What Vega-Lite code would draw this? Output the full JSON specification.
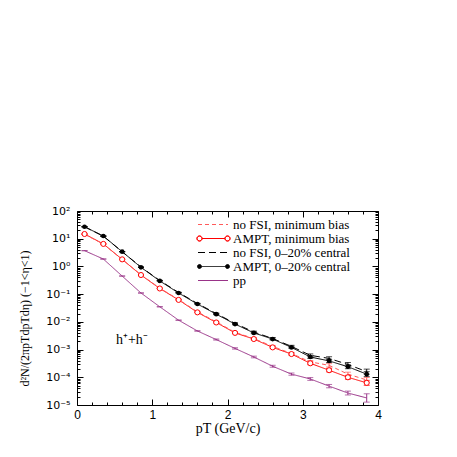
{
  "$schema": "https://vega.github.io/schema/vega-lite/v6.json",
  "autosize": "none",
  "width": 301,
  "height": 194,
  "padding": {"left": 77, "top": 211, "right": 79, "bottom": 52},
  "background": "white",
  "config": {"view": {"stroke": null}},
  "datasets": {
    "spectra": [
      {"s": "AMPT, 0–20% central", "pT": 0.1, "y": 27, "lo": 26.6, "hi": 27.4},
      {"s": "AMPT, 0–20% central", "pT": 0.35, "y": 12.5, "lo": 12.3, "hi": 12.7},
      {"s": "AMPT, 0–20% central", "pT": 0.6, "y": 3.4, "lo": 3.35, "hi": 3.45},
      {"s": "AMPT, 0–20% central", "pT": 0.85, "y": 0.93, "lo": 0.916, "hi": 0.944},
      {"s": "AMPT, 0–20% central", "pT": 1.1, "y": 0.3, "lo": 0.2955, "hi": 0.3045},
      {"s": "AMPT, 0–20% central", "pT": 1.35, "y": 0.11, "lo": 0.1084, "hi": 0.1117},
      {"s": "AMPT, 0–20% central", "pT": 1.6, "y": 0.044, "lo": 0.0433, "hi": 0.0447},
      {"s": "AMPT, 0–20% central", "pT": 1.85, "y": 0.019, "lo": 0.01815, "hi": 0.01989},
      {"s": "AMPT, 0–20% central", "pT": 2.1, "y": 0.0083, "lo": 0.00784, "hi": 0.00879},
      {"s": "AMPT, 0–20% central", "pT": 2.35, "y": 0.004, "lo": 0.00373, "hi": 0.00429},
      {"s": "AMPT, 0–20% central", "pT": 2.6, "y": 0.0024, "lo": 0.00221, "hi": 0.0026},
      {"s": "AMPT, 0–20% central", "pT": 2.85, "y": 0.0012, "lo": 0.001095, "hi": 0.001315},
      {"s": "AMPT, 0–20% central", "pT": 3.1, "y": 0.00054, "lo": 0.000481, "hi": 0.000606},
      {"s": "AMPT, 0–20% central", "pT": 3.35, "y": 0.00039, "lo": 0.00034, "hi": 0.000448},
      {"s": "AMPT, 0–20% central", "pT": 3.6, "y": 0.00024, "lo": 0.000204, "hi": 0.000282},
      {"s": "AMPT, 0–20% central", "pT": 3.85, "y": 0.00013, "lo": 0.000106, "hi": 0.00016},

      {"s": "no FSI, 0–20% central", "pT": 0.1, "y": 27, "lo": 26.6, "hi": 27.4},
      {"s": "no FSI, 0–20% central", "pT": 0.35, "y": 12.3, "lo": 12.12, "hi": 12.48},
      {"s": "no FSI, 0–20% central", "pT": 0.6, "y": 3.4, "lo": 3.35, "hi": 3.45},
      {"s": "no FSI, 0–20% central", "pT": 0.85, "y": 0.95, "lo": 0.936, "hi": 0.964},
      {"s": "no FSI, 0–20% central", "pT": 1.1, "y": 0.31, "lo": 0.3054, "hi": 0.3147},
      {"s": "no FSI, 0–20% central", "pT": 1.35, "y": 0.115, "lo": 0.1133, "hi": 0.1167},
      {"s": "no FSI, 0–20% central", "pT": 1.6, "y": 0.046, "lo": 0.0453, "hi": 0.0467},
      {"s": "no FSI, 0–20% central", "pT": 1.85, "y": 0.02, "lo": 0.0191, "hi": 0.0209},
      {"s": "no FSI, 0–20% central", "pT": 2.1, "y": 0.0088, "lo": 0.00831, "hi": 0.00932},
      {"s": "no FSI, 0–20% central", "pT": 2.35, "y": 0.0043, "lo": 0.00401, "hi": 0.00461},
      {"s": "no FSI, 0–20% central", "pT": 2.6, "y": 0.0025, "lo": 0.00231, "hi": 0.00271},
      {"s": "no FSI, 0–20% central", "pT": 2.85, "y": 0.0013, "lo": 0.001186, "hi": 0.001425},
      {"s": "no FSI, 0–20% central", "pT": 3.1, "y": 0.00062, "lo": 0.000553, "hi": 0.000696},
      {"s": "no FSI, 0–20% central", "pT": 3.35, "y": 0.00048, "lo": 0.000418, "hi": 0.000551},
      {"s": "no FSI, 0–20% central", "pT": 3.6, "y": 0.00029, "lo": 0.000247, "hi": 0.000341},
      {"s": "no FSI, 0–20% central", "pT": 3.85, "y": 0.00016, "lo": 0.00013, "hi": 0.000197},

      {"s": "AMPT, minimum bias", "pT": 0.1, "y": 14.8, "lo": 14.58, "hi": 15.02},
      {"s": "AMPT, minimum bias", "pT": 0.35, "y": 6.5, "lo": 6.4, "hi": 6.6},
      {"s": "AMPT, minimum bias", "pT": 0.6, "y": 1.8, "lo": 1.773, "hi": 1.827},
      {"s": "AMPT, minimum bias", "pT": 0.85, "y": 0.49, "lo": 0.4827, "hi": 0.4974},
      {"s": "AMPT, minimum bias", "pT": 1.1, "y": 0.16, "lo": 0.1576, "hi": 0.1624},
      {"s": "AMPT, minimum bias", "pT": 1.35, "y": 0.062, "lo": 0.0611, "hi": 0.0629},
      {"s": "AMPT, minimum bias", "pT": 1.6, "y": 0.022, "lo": 0.02167, "hi": 0.02233},
      {"s": "AMPT, minimum bias", "pT": 1.85, "y": 0.0095, "lo": 0.00907, "hi": 0.00995},
      {"s": "AMPT, minimum bias", "pT": 2.1, "y": 0.004, "lo": 0.00378, "hi": 0.00424},
      {"s": "AMPT, minimum bias", "pT": 2.35, "y": 0.0024, "lo": 0.00224, "hi": 0.00257},
      {"s": "AMPT, minimum bias", "pT": 2.6, "y": 0.0012, "lo": 0.001107, "hi": 0.001301},
      {"s": "AMPT, minimum bias", "pT": 2.85, "y": 0.00069, "lo": 0.00063, "hi": 0.000756},
      {"s": "AMPT, minimum bias", "pT": 3.1, "y": 0.00032, "lo": 0.000285, "hi": 0.000359},
      {"s": "AMPT, minimum bias", "pT": 3.35, "y": 0.00018, "lo": 0.000157, "hi": 0.000207},
      {"s": "AMPT, minimum bias", "pT": 3.6, "y": 0.0001, "lo": 0.0000851, "hi": 0.0001175},
      {"s": "AMPT, minimum bias", "pT": 3.85, "y": 0.000063, "lo": 0.0000512, "hi": 0.0000775},

      {"s": "no FSI, minimum bias", "pT": 0.1, "y": 14.5, "lo": 14.28, "hi": 14.72},
      {"s": "no FSI, minimum bias", "pT": 0.35, "y": 6.4, "lo": 6.3, "hi": 6.5},
      {"s": "no FSI, minimum bias", "pT": 0.6, "y": 1.8, "lo": 1.773, "hi": 1.827},
      {"s": "no FSI, minimum bias", "pT": 0.85, "y": 0.5, "lo": 0.4925, "hi": 0.5075},
      {"s": "no FSI, minimum bias", "pT": 1.1, "y": 0.165, "lo": 0.1625, "hi": 0.1675},
      {"s": "no FSI, minimum bias", "pT": 1.35, "y": 0.064, "lo": 0.063, "hi": 0.065},
      {"s": "no FSI, minimum bias", "pT": 1.6, "y": 0.023, "lo": 0.02266, "hi": 0.02335},
      {"s": "no FSI, minimum bias", "pT": 1.85, "y": 0.01, "lo": 0.00955, "hi": 0.01047},
      {"s": "no FSI, minimum bias", "pT": 2.1, "y": 0.0042, "lo": 0.00397, "hi": 0.00445},
      {"s": "no FSI, minimum bias", "pT": 2.35, "y": 0.0025, "lo": 0.00233, "hi": 0.00268},
      {"s": "no FSI, minimum bias", "pT": 2.6, "y": 0.0013, "lo": 0.0012, "hi": 0.00141},
      {"s": "no FSI, minimum bias", "pT": 2.85, "y": 0.00072, "lo": 0.000657, "hi": 0.000789},
      {"s": "no FSI, minimum bias", "pT": 3.1, "y": 0.00036, "lo": 0.000321, "hi": 0.000404},
      {"s": "no FSI, minimum bias", "pT": 3.35, "y": 0.00027, "lo": 0.000235, "hi": 0.00031},
      {"s": "no FSI, minimum bias", "pT": 3.6, "y": 0.00013, "lo": 0.0001106, "hi": 0.0001528},
      {"s": "no FSI, minimum bias", "pT": 3.85, "y": 0.00008, "lo": 0.000065, "hi": 0.0000984},

      {"s": "pp", "pT": 0.1, "y": 3.7, "lo": 3.645, "hi": 3.755},
      {"s": "pp", "pT": 0.35, "y": 1.85, "lo": 1.822, "hi": 1.878},
      {"s": "pp", "pT": 0.6, "y": 0.45, "lo": 0.443, "hi": 0.457},
      {"s": "pp", "pT": 0.85, "y": 0.11, "lo": 0.1084, "hi": 0.1117},
      {"s": "pp", "pT": 1.1, "y": 0.035, "lo": 0.0345, "hi": 0.0355},
      {"s": "pp", "pT": 1.35, "y": 0.0115, "lo": 0.01133, "hi": 0.01167},
      {"s": "pp", "pT": 1.6, "y": 0.0047, "lo": 0.00463, "hi": 0.00477},
      {"s": "pp", "pT": 1.85, "y": 0.0023, "lo": 0.0022, "hi": 0.00241},
      {"s": "pp", "pT": 2.1, "y": 0.0011, "lo": 0.00104, "hi": 0.001165},
      {"s": "pp", "pT": 2.35, "y": 0.00054, "lo": 0.000504, "hi": 0.000579},
      {"s": "pp", "pT": 2.6, "y": 0.00025, "lo": 0.000231, "hi": 0.000271},
      {"s": "pp", "pT": 2.85, "y": 0.00013, "lo": 0.0001186, "hi": 0.0001425},
      {"s": "pp", "pT": 3.1, "y": 0.000087, "lo": 0.0000775, "hi": 0.0000976},
      {"s": "pp", "pT": 3.35, "y": 0.000048, "lo": 0.0000418, "hi": 0.0000551},
      {"s": "pp", "pT": 3.6, "y": 0.000027, "lo": 0.000023, "hi": 0.0000317},
      {"s": "pp", "pT": 3.85, "y": 0.000018, "lo": 0.0000127, "hi": 0.0000254}
    ],
    "notes": [{"label": "h⁺+h⁻", "pT": 0.73, "y": 0.0022}]
  },
  "layer": [
    {
      "data": {"name": "spectra"},
      "mark": {"type": "line", "strokeWidth": 1, "clip": true},
      "encoding": {
        "x": {
          "field": "pT", "type": "quantitative",
          "scale": {"domain": [0, 4], "nice": false, "zero": false},
          "axis": {
            "orient": "bottom",
            "title": "pT (GeV/c)",
            "titleFont": "Liberation Serif", "titleFontSize": 14, "titleFontWeight": "normal", "titleColor": "black", "titlePadding": -2,
            "values": [0,0.2,0.4,0.6,0.8,1,1.2,1.4,1.6,1.8,2,2.2,2.4,2.6,2.8,3,3.2,3.4,3.6,3.8,4],
            "labelExpr": "abs(datum.value - round(datum.value)) < 0.001 ? format(datum.value, 'd') : ''",
            "labelFont": "Liberation Sans", "labelFontSize": 12, "labelColor": "black", "labelPadding": 10,
            "labelFlush": false, "labelOverlap": false,
            "tickSize": {"condition": {"test": "abs(datum.value - round(datum.value)) < 0.001", "value": -6}, "value": -3},
            "tickColor": "black", "domainColor": "black", "grid": false
          }
        },
        "y": {
          "field": "y", "type": "quantitative",
          "scale": {"type": "log", "domain": [0.00001, 100], "nice": false},
          "axis": {
            "orient": "left",
            "title": "d²N/(2πpTdpTdη) (−1<η<1)",
            "titleFont": "Liberation Serif", "titleFontSize": 12, "titleFontWeight": "normal", "titleColor": "black", "titlePadding": 14,
            "titleY": 107, "titleAlign": "center",
            "values": [0.00001,0.00002,0.00003,0.00004,0.00005,0.00006,0.00007,0.00008,0.00009,0.0001,0.0002,0.0003,0.0004,0.0005,0.0006,0.0007,0.0008,0.0009,0.001,0.002,0.003,0.004,0.005,0.006,0.007,0.008,0.009,0.01,0.02,0.03,0.04,0.05,0.06,0.07,0.08,0.09,0.1,0.2,0.3,0.4,0.5,0.6,0.7,0.8,0.9,1,2,3,4,5,6,7,8,9,10,20,30,40,50,60,70,80,90,100],
            "labelExpr": "abs(log(datum.value)/LN10 - round(log(datum.value)/LN10)) < 0.001 ? ['10⁻⁵','10⁻⁴','10⁻³','10⁻²','10⁻¹','10⁰','10¹','10²'][round(log(datum.value)/LN10) + 5] : ''",
            "labelFont": "DejaVu Sans", "labelFontSize": 11, "labelColor": "black", "labelPadding": 13,
            "labelFlush": false, "labelOverlap": false,
            "tickSize": {"condition": {"test": "abs(log(datum.value)/LN10 - round(log(datum.value)/LN10)) < 0.001", "value": -6}, "value": -3},
            "tickColor": "black", "domainColor": "black", "grid": false
          }
        },
        "color": {
          "field": "s", "type": "nominal",
          "scale": {
            "domain": ["no FSI, minimum bias", "AMPT, minimum bias", "no FSI, 0–20% central", "AMPT, 0–20% central", "pp"],
            "range": ["#ff5a5a", "#ff0000", "#000000", "#000000", "#993388"]
          },
          "legend": {
            "title": null, "orient": "none", "legendX": 130, "legendY": 7,
            "symbolSize": 100, "symbolStrokeWidth": 1,
            "labelFont": "Liberation Serif", "labelFontSize": 13, "labelColor": "black",
            "rowPadding": -4, "labelOffset": 13, "padding": 0,
            "encode": {
              "symbols": {
                "update": {
                  "shape": {"signal": "datum.value == 'AMPT, minimum bias' ? 'M-2.3,0H2.3M-2.3,0A0.5,0.5 0 1,1 -3.3,0A0.5,0.5 0 1,1 -2.3,0M-2.3,0A0.5,0.5 0 1,0 -3.3,0A0.5,0.5 0 1,0 -2.3,0M3.3,0A0.5,0.5 0 1,1 2.3,0A0.5,0.5 0 1,1 3.3,0M3.3,0A0.5,0.5 0 1,0 2.3,0A0.5,0.5 0 1,0 3.3,0' : datum.value == 'AMPT, 0–20% central' ? 'M-2.4,0H2.4M-2.4,0A0.4,0.4 0 1,1 -3.2,0A0.4,0.4 0 1,1 -2.4,0M3.2,0A0.4,0.4 0 1,1 2.4,0A0.4,0.4 0 1,1 3.2,0' : 'M-3.1,0H2.9'"},
                  "strokeDash": {"signal": "datum.value == 'no FSI, minimum bias' ? [4,3] : datum.value == 'no FSI, 0–20% central' ? [7,4] : [1,0]"},
                  "size": {"value": 100}
                }
              }
            }
          }
        },
        "strokeDash": {
          "field": "s", "type": "nominal",
          "scale": {
            "domain": ["no FSI, minimum bias", "AMPT, minimum bias", "no FSI, 0–20% central", "AMPT, 0–20% central", "pp"],
            "range": [[4, 3], [1, 0], [7, 4], [1, 0], [1, 0]]
          },
          "legend": null
        }
      }
    },
    {
      "data": {"name": "spectra"},
      "mark": {"type": "errorbar", "ticks": {"size": 6}, "rule": {"strokeWidth": 1}},
      "encoding": {
        "x": {
          "field": "pT", "type": "quantitative",
          "axis": {
            "orient": "top", "title": null, "labels": false,
            "values": [0,0.2,0.4,0.6,0.8,1,1.2,1.4,1.6,1.8,2,2.2,2.4,2.6,2.8,3,3.2,3.4,3.6,3.8,4],
            "tickSize": {"condition": {"test": "abs(datum.value - round(datum.value)) < 0.001", "value": -6}, "value": -3},
            "tickColor": "black", "domainColor": "black", "grid": false
          }
        },
        "y": {
          "field": "lo", "type": "quantitative",
          "axis": {
            "orient": "right", "title": null, "labels": false,
            "values": [0.00001,0.00002,0.00003,0.00004,0.00005,0.00006,0.00007,0.00008,0.00009,0.0001,0.0002,0.0003,0.0004,0.0005,0.0006,0.0007,0.0008,0.0009,0.001,0.002,0.003,0.004,0.005,0.006,0.007,0.008,0.009,0.01,0.02,0.03,0.04,0.05,0.06,0.07,0.08,0.09,0.1,0.2,0.3,0.4,0.5,0.6,0.7,0.8,0.9,1,2,3,4,5,6,7,8,9,10,20,30,40,50,60,70,80,90,100],
            "tickSize": {"condition": {"test": "abs(log(datum.value)/LN10 - round(log(datum.value)/LN10)) < 0.001", "value": -6}, "value": -3},
            "tickColor": "black", "domainColor": "black", "grid": false
          }
        },
        "y2": {"field": "hi"},
        "color": {"field": "s", "type": "nominal", "legend": null}
      }
    },
    {
      "data": {"name": "spectra"},
      "transform": [{"filter": "datum.s == 'AMPT, 0–20% central'"}],
      "mark": {"type": "point", "shape": "circle", "filled": true, "size": 22, "color": "black", "opacity": 1},
      "encoding": {
        "x": {"field": "pT", "type": "quantitative", "axis": null},
        "y": {"field": "y", "type": "quantitative", "axis": null}
      }
    },
    {
      "data": {"name": "spectra"},
      "transform": [{"filter": "datum.s == 'AMPT, minimum bias'"}],
      "mark": {"type": "point", "shape": "circle", "filled": false, "size": 26, "stroke": "#ff0000", "fill": "white", "fillOpacity": 1, "strokeWidth": 1, "opacity": 1},
      "encoding": {
        "x": {"field": "pT", "type": "quantitative", "axis": null},
        "y": {"field": "y", "type": "quantitative", "axis": null}
      }
    },
    {
      "data": {"name": "notes"},
      "mark": {"type": "text", "font": "Liberation Serif", "fontSize": 14, "color": "black", "align": "center", "baseline": "middle"},
      "encoding": {
        "x": {"field": "pT", "type": "quantitative", "axis": null},
        "y": {"field": "y", "type": "quantitative", "axis": null},
        "text": {"field": "label"}
      }
    }
  ],
  "resolve": {"axis": {"x": "independent", "y": "independent"}}
}
